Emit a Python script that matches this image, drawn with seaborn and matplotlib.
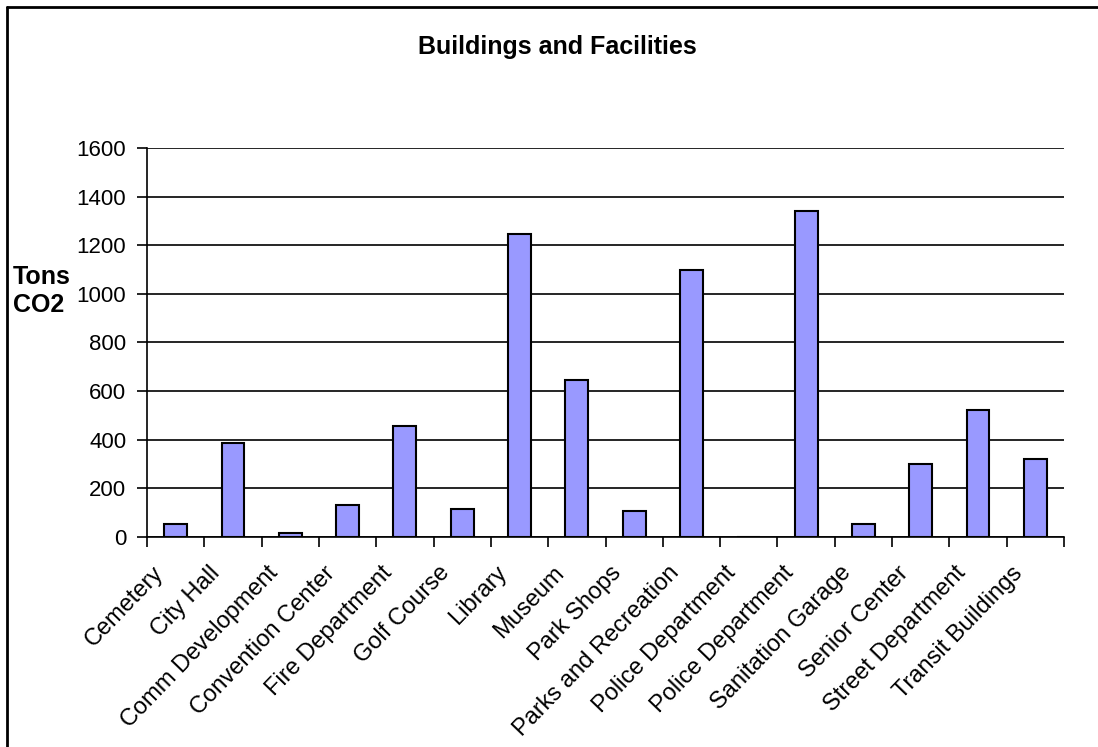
import numpy as np
import matplotlib
matplotlib.use("Agg")
import matplotlib.pyplot as plt
import matplotlib.transforms as mtransforms
import seaborn as sns

categories = ["Cemetery", "City Hall", "Comm Development", "Convention Center",
              "Fire Department", "Golf Course", "Library", "Museum", "Park Shops",
              "Parks and Recreation", "Police Department", "Police Department",
              "Sanitation Garage", "Senior Center", "Street Department", "Transit Buildings"]
tons_co2 = [55, 385, 15, 132, 457, 117, 1247, 647, 108, 1100, 0, 1340, 53, 299, 521, 322]
y_ticks = [0, 200, 400, 600, 800, 1000, 1200, 1400, 1600]

sns.set_style("white")
plt.rcParams["font.family"] = ["Liberation Sans", "DejaVu Sans"]
plt.rcParams["text.color"] = "black"
plt.rcParams["xtick.color"] = "black"
plt.rcParams["ytick.color"] = "black"

fig = plt.figure(figsize=(10.98, 7.47), dpi=100)
ax = fig.add_axes([147 / 1098, 1 - 537 / 747, (1064 - 147) / 1098, (537 - 148) / 747])

pos = list(range(len(categories)))
sns.barplot(x=pos, y=tons_co2, color="#9999FF", saturation=1, width=0.4,
            edgecolor="black", linewidth=1.5, ax=ax)

ax.set_xlim(-0.5, len(categories) - 0.5)
ax.set_ylim(0, 1600)
ax.set_yticks(y_ticks)
ax.tick_params(axis="y", labelsize=16, length=7, width=1.2, direction="out",
               left=True, pad=8, colors="black")
ax.yaxis.grid(True, color="black", linewidth=1.2)
ax.set_axisbelow(True)

ax.set_xticks(pos)
ax.set_xticklabels(categories, rotation=46, ha="right", va="top", rotation_mode="anchor",
                   fontsize=17)
ax.tick_params(axis="x", which="major", length=0, pad=18, colors="black")
shift = mtransforms.ScaledTranslation(-24 / 100, 0, fig.dpi_scale_trans)
for lbl in ax.get_xticklabels():
    lbl.set_transform(lbl.get_transform() + shift)
ax.set_xticks(np.arange(-0.5, len(categories)), minor=True)
ax.tick_params(axis="x", which="minor", length=7, width=1.2, direction="out", bottom=True)

for side in ["top", "right"]:
    ax.spines[side].set_visible(False)
for side in ["left", "bottom"]:
    ax.spines[side].set_color("black")
    ax.spines[side].set_linewidth(1.2)
ax.set_xlabel("")
ax.set_ylabel("")

fig.text(557 / 1098, 1 - 47 / 747, "Buildings and Facilities", ha="center", va="center",
         fontsize=18, fontweight="bold")
fig.text(13 / 1098, 1 - 291 / 747, "Tons\nCO2", ha="left", va="center",
         fontsize=18, fontweight="bold", linespacing=1.2)

# outer chart border (cut off at right and bottom like the reference)
fig.add_artist(plt.Line2D([7 / 1098, 1.0], [1 - 7 / 747, 1 - 7 / 747],
                          transform=fig.transFigure, color="black", linewidth=2))
fig.add_artist(plt.Line2D([7 / 1098, 7 / 1098], [0.0, 1 - 7 / 747],
                          transform=fig.transFigure, color="black", linewidth=2))

fig.savefig("out.png", dpi=100)
